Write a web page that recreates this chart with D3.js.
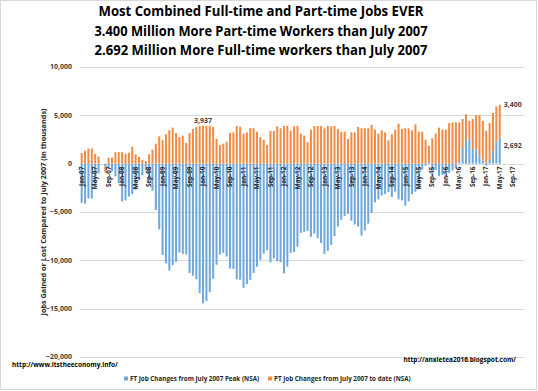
<!DOCTYPE html>
<html><head><meta charset="utf-8">
<script src="https://cdn.jsdelivr.net/npm/d3@7"></script>
<style>
html,body{margin:0;padding:0;background:#fff;}
svg{display:block;font-family:"Open Sans","Liberation Sans",sans-serif;}
</style></head><body>
<svg id="chart" width="538" height="391"></svg>
<script>
// ---- data ----
const titleLines = [
  "Most Combined Full-time and Part-time Jobs EVER",
  "3.400 Million More Part-time Workers than July 2007",
  "2.692 Million More Full-time workers than July 2007"
];
const monthNames = ["Jan","Feb","Mar","Apr","May","Jun","Jul","Aug","Sep","Oct","Nov","Dec"];
const years = ["07","08","09","10","11","12","13","14","15","16","17"];
const tickLabels = ["Jan-07","May-07","Sep-07","Jan-08","May-08","Sep-08","Jan-09","May-09","Sep-09",
  "Jan-10","May-10","Sep-10","Jan-11","May-11","Sep-11","Jan-12","May-12","Sep-12","Jan-13","May-13","Sep-13",
  "Jan-14","May-14","Sep-14","Jan-15","May-15","Sep-15","Jan-16","May-16","Sep-16","Jan-17","May-17","Sep-17"];
const yTicks = [10000, 5000, 0, -5000, -10000, -15000, -20000];

// FT job changes from July 2007 peak (thousands), Jan-07 .. May-17
const ftValues = [
  -4070,-4140,-3600,-3600,-2200,-1000,0,-300,-500,-800,-1300,-2000,
  -3900,-3800,-3400,-3150,-2700,-1700,-1200,-700,-1600,-2800,-4800,-6800,
  -9450,-10300,-11050,-10500,-10150,-9200,-9350,-9400,-11300,-11600,-11950,-13400,
  -14450,-14200,-13300,-11900,-10450,-9400,-9250,-9600,-10850,-10900,-11950,-12000,
  -12850,-12450,-12050,-11300,-10650,-9950,-9300,-8950,-10200,-9800,-10100,-10200,
  -11350,-10650,-9250,-9150,-8580,-7150,-7050,-6950,-7570,-7230,-7700,-8200,
  -9330,-9020,-8400,-7500,-6500,-5800,-5400,-5200,-5900,-6300,-6500,-7450,
  -6900,-6200,-5100,-4000,-3700,-3300,-3150,-2950,-3450,-2900,-3700,-3800,
  -4350,-3900,-3150,-2900,-2650,-600,-200,200,-1300,-650,-1300,-1150,
  -1350,-950,-700,-500,200,1650,2350,2620,1520,1380,760,345,
  -200,410,1310,2280,2692
];
// PT job changes from July 2007 to date (thousands), Jan-07 .. May-17
const ptValues = [
  1100,1340,1570,1580,1000,720,0,-600,620,640,1180,1200,
  1180,1030,1140,1750,970,690,410,280,970,1450,2070,2830,
  2420,3040,3450,3730,3170,2760,2900,2140,3170,3590,3800,3880,
  3937,3920,3930,3800,2550,1930,2070,2280,3170,3240,3900,3800,
  3100,3240,3660,3660,3310,2760,2480,1930,3380,3380,3860,3660,
  3900,3920,3380,3860,3920,3100,2900,2210,3520,3900,3900,3900,
  3660,3900,3860,3900,3590,3310,3310,2550,3240,3240,3800,3660,
  3660,3660,4000,3520,3100,3450,3240,2420,3040,3520,4140,3590,
  3660,3660,3450,4070,3310,3310,2480,1660,2620,3100,3730,3520,
  3520,4200,4280,4280,4080,2970,2750,1800,3100,3660,4280,4075,
  3380,3790,3930,3650,3400
];
const seriesNames = ["FT Job Changes from July 2007 Peak (NSA)","PT Job Changes from July 2007 to date (NSA)"];
const seriesColors = ["#6FA8DC","#F28C45"];

// ---- build ----
const categories = [];
years.forEach(y => monthNames.forEach(m => categories.push(m + "-" + y)));
const rows = ftValues.map((v, i) => ({cat: categories[i], ft: v, pt: ptValues[i]}));

const svg = d3.select("#chart");
const M = {left: 80, right: 525, top: 67, bottom: 357};

svg.append("rect").attr("x",0.5).attr("y",0.5).attr("width",536).attr("height",389)
  .attr("fill","#fff").attr("stroke","#d9d9d9");

const x = d3.scaleBand().domain(categories).range([M.left, M.right]).paddingInner(0.4).paddingOuter(0.2);
const y = d3.scaleLinear().domain([-20000, 10000]).range([M.bottom, M.top]);

// gridlines
svg.append("g").selectAll("line").data(yTicks).join("line")
  .attr("x1", M.left).attr("x2", M.right)
  .attr("y1", d => Math.round(y(d)) + 0.5).attr("y2", d => Math.round(y(d)) + 0.5)
  .attr("stroke", "#d9d9d9").attr("stroke-width", 1);

// y tick labels
svg.append("g").selectAll("text").data(yTicks).join("text")
  .attr("x", 72).attr("y", d => y(d)).attr("dy","0.35em")
  .attr("text-anchor","end").attr("font-size","7px").attr("font-weight","bold").attr("fill","#404040")
  .text(d => d3.format(",")(d));

// y axis title
svg.append("text")
  .attr("transform", `translate(46,${(M.top + M.bottom)/2}) rotate(-90)`)
  .attr("text-anchor","middle").attr("font-size","7.3px").attr("font-weight","bold").attr("fill","#262626")
  .text("Jobs Gained or Lost Compared to July 2007 (in thousands)");

// stacked bars
const stack = d3.stack().keys(["ft","pt"]).offset(d3.stackOffsetDiverging);
const layers = stack(rows);
svg.append("g").selectAll("g").data(layers).join("g")
  .attr("fill", (d, i) => seriesColors[i])
  .selectAll("rect").data(d => d).join("rect")
  .attr("x", d => x(d.data.cat))
  .attr("width", x.bandwidth())
  .attr("y", d => y(Math.max(d[0], d[1])))
  .attr("height", d => Math.abs(y(d[0]) - y(d[1])));

// x tick labels (rotated) at zero line
svg.append("g").selectAll("text").data(tickLabels).join("text")
  .attr("transform", d => `translate(${x(d) + x.bandwidth()/2 + 2.2},${y(0) + 3}) rotate(-90)`)
  .attr("text-anchor","end").attr("font-size","6.3px").attr("font-weight","bold").attr("fill","#262626")
  .text(d => d);

// data labels
const peakIdx = ptValues.indexOf(3937);
svg.append("text").attr("x", x(categories[peakIdx]) + x.bandwidth()/2).attr("y", y(ptValues[peakIdx]) - 3)
  .attr("text-anchor","middle").attr("font-size","7px").attr("font-weight","bold").attr("fill","#404040")
  .text(d3.format(",")(ptValues[peakIdx]));
const last = rows.length - 1;
svg.append("text").attr("x", x(categories[last]) + x.bandwidth() + 3).attr("y", y(ftValues[last] + ptValues[last])).attr("dy","0.35em")
  .attr("font-size","7px").attr("font-weight","bold").attr("fill","#404040")
  .text(d3.format(",")(ptValues[last]));
svg.append("text").attr("x", x(categories[last]) + x.bandwidth() + 3).attr("y", y(ftValues[last]) + 8).attr("dy","0.35em")
  .attr("font-size","7px").attr("font-weight","bold").attr("fill","#404040")
  .text(d3.format(",")(ftValues[last]));

// titles
const titleY = [16, 35.5, 54.5];
svg.append("g").selectAll("text").data(titleLines).join("text")
  .attr("x", 261).attr("y", (d, i) => titleY[i]).attr("text-anchor","middle")
  .attr("font-size","15px").attr("font-weight","bold").attr("fill","#000")
  .attr("textLength", (d, i) => i === 0 ? 325 : 333).attr("lengthAdjust","spacingAndGlyphs")
  .text(d => d);

// source notes
svg.append("text").attr("x", 12).attr("y", 367).attr("font-size","6.5px").attr("font-weight","bold").attr("fill","#000")
  .text("http://www.itstheeconomy.info/");
svg.append("text").attr("x", 516).attr("y", 361.5).attr("text-anchor","end").attr("font-size","6.5px").attr("font-weight","bold").attr("fill","#000")
  .text("http://anxietea2016.blogspot.com/");

// legend
const legendX = [124, 268];
const lg = svg.append("g").selectAll("g").data(seriesNames).join("g")
  .attr("transform", (d, i) => `translate(${legendX[i]},379)`);
lg.append("rect").attr("x",0).attr("y",-2.5).attr("width",4).attr("height",4).attr("fill",(d,i)=>seriesColors[i]);
lg.append("text").attr("x",6).attr("y",0).attr("dy","0.35em").attr("font-size","6.3px").attr("font-weight","bold").attr("fill","#262626")
  .text(d => d);
</script>
</body></html>
